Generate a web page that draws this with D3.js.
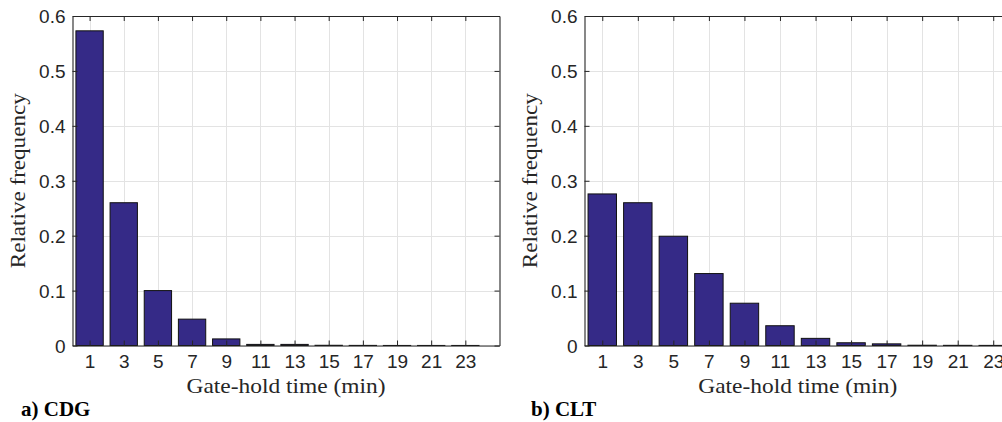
<!DOCTYPE html>
<html>
<head>
<meta charset="utf-8">
<script src="https://cdn.jsdelivr.net/npm/d3@7"></script>
<style>
  html, body { margin: 0; padding: 0; background: #fff; overflow: hidden; }
  svg { display: block; }
</style>
</head>
<body>
<svg id="chart" width="1002" height="422"></svg>
<script>
// ---- data ----
const categories = [1, 3, 5, 7, 9, 11, 13, 15, 17, 19, 21, 23];
const cdgValues = [0.573, 0.260, 0.100, 0.048, 0.012, 0.002, 0.002, 0.0004, 0.0002, 0.0001, 0.0001, 0.0001];
const cltValues = [0.276, 0.260, 0.199, 0.131, 0.077, 0.036, 0.013, 0.005, 0.003, 0.0005, 0.0003, 0.0002];
const yTicks = [0, 0.1, 0.2, 0.3, 0.4, 0.5, 0.6];
const xTickLabels = categories.map(String);
const xLabelText = "Gate-hold time (min)";
const yLabelText = "Relative frequency";
const panelTitles = ["a) CDG", "b) CLT"];

const svg = d3.select("#chart");
const barColor = "#352a87";
const axisColor = "#262626";
const gridColor = "#e3e3e3";

function drawPanel(values, title, left, right, xMax) {
  const top = 16, bottom = 345.5;
  const x = d3.scaleLinear().domain([0, xMax]).range([left, right]);
  const y = d3.scaleLinear().domain([0, 0.6]).range([bottom, top]);
  const g = svg.append("g");
  const barW = 1.6;

  // grid
  g.append("g").selectAll("line.vg").data(categories).join("line")
    .attr("x1", d => Math.round(x(d)) + 0.5).attr("x2", d => Math.round(x(d)) + 0.5)
    .attr("y1", top).attr("y2", bottom)
    .attr("stroke", gridColor).attr("stroke-width", 1);
  g.append("g").selectAll("line.hg").data(yTicks).join("line")
    .attr("y1", d => Math.round(y(d)) + 0.5).attr("y2", d => Math.round(y(d)) + 0.5)
    .attr("x1", left).attr("x2", right)
    .attr("stroke", gridColor).attr("stroke-width", 1);

  // bars
  g.append("g").selectAll("rect").data(categories).join("rect")
    .attr("x", (d) => x(d - barW / 2))
    .attr("width", x(barW) - x(0))
    .attr("y", (d, i) => y(values[i]))
    .attr("height", (d, i) => y(0) - y(values[i]))
    .attr("fill", barColor)
    .attr("stroke", "#111")
    .attr("stroke-width", 1);

  // axes (box with inward ticks)
  const xAxisB = d3.axisBottom(x).tickValues(categories).tickSize(-5).tickFormat((d, i) => xTickLabels[i]).tickSizeOuter(0);
  const xAxisT = d3.axisTop(x).tickValues(categories).tickSize(-5).tickFormat("").tickSizeOuter(0);
  const yAxisL = d3.axisLeft(y).tickValues(yTicks).tickSize(-5).tickFormat(d => d === 0 ? "0" : d3.format(".1f")(d)).tickSizeOuter(0);
  const yAxisR = d3.axisRight(y).tickValues(yTicks).tickSize(-5).tickFormat("").tickSizeOuter(0);

  const gb = g.append("g").attr("transform", `translate(0,${bottom})`).call(xAxisB);
  const gt = g.append("g").attr("transform", `translate(0,${top})`).call(xAxisT);
  const gl = g.append("g").attr("transform", `translate(${left},0)`).call(yAxisL);
  const gr = g.append("g").attr("transform", `translate(${right},0)`).call(yAxisR);
  [gb, gt, gl, gr].forEach(a => {
    a.selectAll("path.domain").attr("stroke", axisColor).attr("stroke-width", 1.1);
    a.selectAll(".tick line").attr("stroke", axisColor).attr("stroke-width", 1);
    a.selectAll("text").attr("fill", axisColor)
      .style("font-family", "'Liberation Sans', Arial, Helvetica, sans-serif")
      .style("font-size", "19px");
  });
  gb.selectAll("text").attr("y", 9).attr("dy", "0.71em");
  gl.selectAll("text").attr("x", -7).attr("dy", "0.35em");

  // labels
  const cx = (left + right) / 2;
  g.append("text")
    .attr("x", cx).attr("y", 393)
    .attr("text-anchor", "middle")
    .attr("textLength", 199).attr("lengthAdjust", "spacingAndGlyphs")
    .style("font-family", "'Liberation Serif', 'Times New Roman', serif")
    .style("font-size", "21px").attr("fill", axisColor)
    .text(xLabelText);
  g.append("text")
    .attr("transform", `translate(${left - 48},${(top + bottom) / 2}) rotate(-90)`)
    .attr("text-anchor", "middle")
    .attr("textLength", 175).attr("lengthAdjust", "spacingAndGlyphs")
    .style("font-family", "'Liberation Serif', 'Times New Roman', serif")
    .style("font-size", "21px").attr("fill", axisColor)
    .text(yLabelText);
  return g;
}

drawPanel(cdgValues, panelTitles[0], 72.5, 499.5, 25);
drawPanel(cltValues, panelTitles[1], 584.5, 1011, 24);

// panel titles
[[panelTitles[0], 21], [panelTitles[1], 531]].forEach(([t, px]) => {
  svg.append("text")
    .attr("x", px).attr("y", 416)
    .style("font-family", "'Liberation Serif', 'Times New Roman', serif")
    .style("font-size", "21px").style("font-weight", "bold")
    .attr("fill", "#000")
    .text(t);
});
</script>
</body>
</html>
